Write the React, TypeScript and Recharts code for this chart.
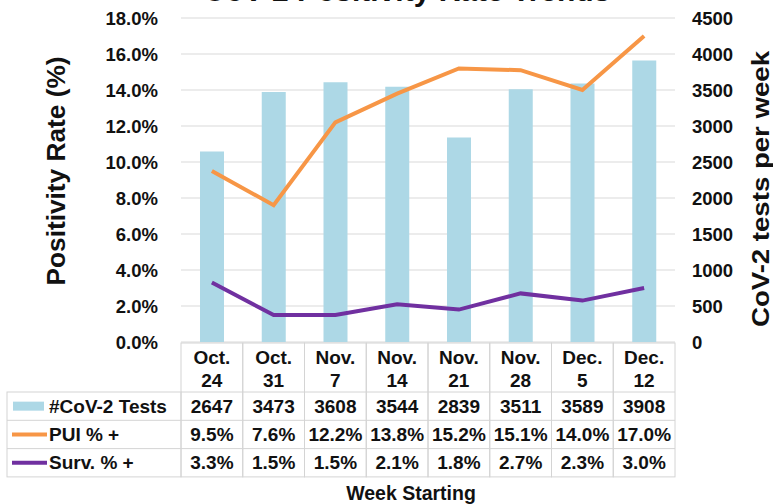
import React from 'react';
import { ComposedChart, Bar, Line, XAxis, YAxis, CartesianGrid } from 'recharts';

const weeks = ['Oct. 24', 'Oct. 31', 'Nov. 7', 'Nov. 14', 'Nov. 21', 'Nov. 28', 'Dec. 5', 'Dec. 12'];
const tests = [2647, 3473, 3608, 3544, 2839, 3511, 3589, 3908];
const pui = [9.5, 7.6, 12.2, 13.8, 15.2, 15.1, 14.0, 17.0];
const surv = [3.3, 1.5, 1.5, 2.1, 1.8, 2.7, 2.3, 3.0];
const leftTicks = [0, 2, 4, 6, 8, 10, 12, 14, 16, 18];
const rightTicks = [0, 500, 1000, 1500, 2000, 2500, 3000, 3500, 4000, 4500];
const seriesLabels = ['#CoV-2 Tests', 'PUI % +', 'Surv. % +'];

const data = weeks.map((w, i) => ({ week: w, tests: tests[i], pui: pui[i], surv: surv[i] }));

const FONT = '"Liberation Sans", Arial, sans-serif';
const W = 773;
const H = 504;
const LEFT_W = 181;
const RIGHT_W = 98;
const TOP = 18;
const PLOT_H = 324;
const XAXIS_H = H - TOP - PLOT_H;
const PLOT_W = W - LEFT_W - RIGHT_W;
const BAND = PLOT_W / weeks.length;
const BORDER = '#d4d4d4';
const BAR_COLOR = '#ADD8E6';
const PUI_COLOR = '#F79646';
const SURV_COLOR = '#7030A0';

const HEADER_H = 50;
const ROW_H = 28.3;

const pct = (v: number) => `${v.toFixed(1)}%`;

const TableTick = (props: any) => {
  const { x, y, payload } = props;
  const i = payload.index;
  const [mon, day] = String(payload.value).split(' ');
  const left = x - BAND / 2;
  const rows = [String(tests[i]), pct(pui[i]), pct(surv[i])];
  const textStyle = { fontFamily: FONT, fontWeight: 700, fontSize: 19, fill: '#111' } as any;
  return (
    <g>
      <rect x={left} y={y + 1} width={BAND} height={HEADER_H + ROW_H * 3 - 1} fill="none" stroke={BORDER} strokeWidth={1} />
      {[0, 1, 2].map((r) => (
        <line key={r} x1={left} x2={left + BAND} y1={y + HEADER_H + ROW_H * r} y2={y + HEADER_H + ROW_H * r} stroke={BORDER} strokeWidth={1} />
      ))}
      <text x={x} y={y + 15} textAnchor="middle" dominantBaseline="central" style={textStyle}>{mon}</text>
      <text x={x} y={y + 38} textAnchor="middle" dominantBaseline="central" style={textStyle}>{day}</text>
      {rows.map((t, r) => (
        <text key={r} x={x} y={y + HEADER_H + ROW_H * r + ROW_H / 2} textAnchor="middle" dominantBaseline="central" style={textStyle}>{t}</text>
      ))}
    </g>
  );
};

export default function App() {
  const base = TOP + PLOT_H;
  const tableTop = base + HEADER_H;
  const labelStyle = { fontFamily: FONT, fontWeight: 700, fontSize: 19, fill: '#111' } as any;
  return (
    <div style={{ position: 'absolute', left: 0, top: 0, width: W, height: H, background: '#fff' }}>
      <ComposedChart width={W} height={H} data={data} margin={{ top: TOP, right: 0, bottom: 0, left: 0 }}>
        <CartesianGrid yAxisId="left" vertical={false} stroke="#d9d9d9" strokeWidth={1.2} />
        <XAxis
          dataKey="week"
          height={XAXIS_H}
          axisLine={false}
          tickLine={false}
          tickSize={0}
          tickMargin={0}
          interval={0}
          tick={<TableTick />}
        />
        <YAxis
          yAxisId="left"
          orientation="left"
          width={LEFT_W}
          domain={[0, 18]}
          ticks={leftTicks}
          tickFormatter={(v: number) => pct(v)}
          axisLine={false}
          tickLine={false}
          tickSize={0}
          tickMargin={23}
          tick={{ fontFamily: FONT, fontWeight: 700, fontSize: 18.5, fill: '#111' }}
        />
        <YAxis
          yAxisId="right"
          orientation="right"
          width={RIGHT_W}
          domain={[0, 4500]}
          ticks={rightTicks}
          axisLine={false}
          tickLine={false}
          tickSize={0}
          tickMargin={17}
          tick={{ fontFamily: FONT, fontWeight: 700, fontSize: 18.5, fill: '#111', textAnchor: 'start' }}
        />
        <Bar yAxisId="right" dataKey="tests" fill={BAR_COLOR} barSize={24} isAnimationActive={false} />
        <Line yAxisId="left" type="linear" dataKey="pui" stroke={PUI_COLOR} strokeWidth={4} dot={false} activeDot={false} isAnimationActive={false} />
        <Line yAxisId="left" type="linear" dataKey="surv" stroke={SURV_COLOR} strokeWidth={4} dot={false} activeDot={false} isAnimationActive={false} />
      </ComposedChart>
      <svg width={W} height={H} style={{ position: 'absolute', left: 0, top: 0, pointerEvents: 'none' }}>
        <text x={407} y={1} textAnchor="middle" style={{ fontFamily: FONT, fontWeight: 700, fontSize: 30, fill: '#111' }}>
          CoV-2 Positivity Rate Trends
        </text>
        <text
          x={0}
          y={0}
          textAnchor="middle"
          dominantBaseline="central"
          transform="translate(56 171) rotate(-90) scale(1.05 1)"
          style={{ fontFamily: FONT, fontWeight: 700, fontSize: 25, fill: '#111' }}
        >
          Positivity Rate (%)
        </text>
        <text
          x={0}
          y={0}
          textAnchor="middle"
          dominantBaseline="central"
          transform="translate(761 189) rotate(-90) scale(1.2 1)"
          style={{ fontFamily: FONT, fontWeight: 700, fontSize: 23, fill: '#111' }}
        >
          CoV-2 tests per week
        </text>
        <rect x={7} y={tableTop} width={LEFT_W - 7} height={ROW_H * 3} fill="none" stroke={BORDER} strokeWidth={1} />
        <line x1={7} x2={LEFT_W} y1={tableTop + ROW_H} y2={tableTop + ROW_H} stroke={BORDER} strokeWidth={1} />
        <line x1={7} x2={LEFT_W} y1={tableTop + ROW_H * 2} y2={tableTop + ROW_H * 2} stroke={BORDER} strokeWidth={1} />
        <rect x={13} y={tableTop + ROW_H / 2 - 4.5} width={31} height={9} fill={BAR_COLOR} />
        <line x1={12} x2={47} y1={tableTop + ROW_H * 1.5} y2={tableTop + ROW_H * 1.5} stroke={PUI_COLOR} strokeWidth={4} />
        <line x1={12} x2={47} y1={tableTop + ROW_H * 2.5} y2={tableTop + ROW_H * 2.5} stroke={SURV_COLOR} strokeWidth={4} />
        {seriesLabels.map((s, r) => (
          <text key={s} x={49} y={tableTop + ROW_H * r + ROW_H / 2} dominantBaseline="central" style={labelStyle}>{s}</text>
        ))}
        <text x={411} y={493} textAnchor="middle" dominantBaseline="central" style={{ fontFamily: FONT, fontWeight: 700, fontSize: 19.5, fill: '#111' }}>
          Week Starting
        </text>
      </svg>
    </div>
  );
}
